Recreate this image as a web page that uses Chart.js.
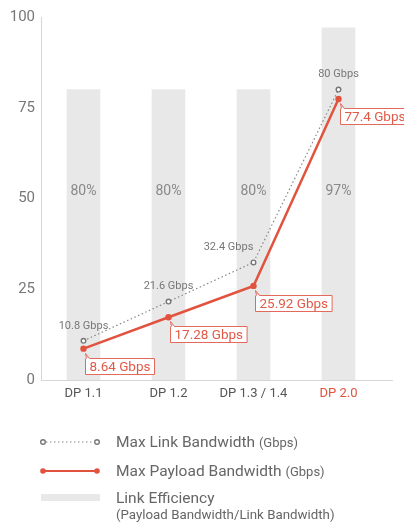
<!DOCTYPE html>
<html><head><meta charset="utf-8">
<script src="https://cdn.jsdelivr.net/npm/chart.js@4/dist/chart.umd.min.js"></script>
<style>
html,body{margin:0;padding:0;background:#fff;font-family:Roboto,sans-serif;}
#wrap{position:relative;width:404px;height:522px;}
#c{position:absolute;left:0;top:0;}
.lt{position:absolute;left:116px;white-space:nowrap;font-size:15.5px;line-height:18px;color:#666;}
.lt small{font-size:13px;}
</style></head>
<body>
<div id="wrap">
<canvas id="c" width="404" height="400"></canvas>
<svg width="404" height="522" style="position:absolute;left:0;top:0" >
  <line x1="46" y1="442" x2="94" y2="442" stroke="#888" stroke-width="1.2" stroke-dasharray="1.5,2.5"/>
  <circle cx="43" cy="442" r="2.3" fill="#fff" stroke="#777" stroke-width="1.4"/>
  <circle cx="97" cy="442" r="2.3" fill="#fff" stroke="#777" stroke-width="1.4"/>
  <line x1="43" y1="471" x2="97" y2="471" stroke="#e2533f" stroke-width="2"/>
  <circle cx="43" cy="471" r="2.8" fill="#e2533f"/>
  <circle cx="97" cy="471" r="2.8" fill="#e2533f"/>
  <rect x="41" y="494" width="59" height="7" fill="#e8e8e8"/>
</svg>
<div class="lt" style="top:433px">Max Link Bandwidth <small>(Gbps)</small></div>
<div class="lt" style="top:462px">Max Payload Bandwidth <small>(Gbps)</small></div>
<div class="lt" style="top:489px">Link Efficiency</div>
<div class="lt" style="top:506px;font-size:13.3px">(Payload Bandwidth/Link Bandwidth)</div>
</div>
<script>
const categories = ['DP 1.1', 'DP 1.2', 'DP 1.3 / 1.4', 'DP 2.0'];
const linkEfficiency = [80, 80, 80, 97];
const maxLinkBandwidth = [10.8, 21.6, 32.4, 80];
const maxPayloadBandwidth = [8.64, 17.28, 25.92, 77.4];
const yTicks = [0, 25, 50, 75, 100];

const RED = '#e2533f';
const linkLabelDx = [0, 0, -25, 0];

const labelPlugin = {
  id: 'labels',
  afterDatasetsDraw(chart) {
    const ctx = chart.ctx;
    const ys = chart.scales.y, ca = chart.chartArea;
    ctx.save();
    ctx.strokeStyle = '#d6d6d6'; ctx.lineWidth = 1;
    ctx.beginPath(); ctx.moveTo(ca.left, ca.bottom + 0.5); ctx.lineTo(393, ca.bottom + 0.5); ctx.stroke();
    const bars = chart.getDatasetMeta(0).data;
    ctx.font = '14px Roboto'; ctx.fillStyle = '#888'; ctx.textAlign = 'center'; ctx.textBaseline = 'middle';
    bars.forEach((b, i) => ctx.fillText(linkEfficiency[i] + '%', b.x, ys.getPixelForValue(52)));
    const lp = chart.getDatasetMeta(1).data;
    ctx.font = '11px Roboto'; ctx.fillStyle = '#777';
    lp.forEach((p, i) => ctx.fillText(maxLinkBandwidth[i] + ' Gbps', p.x + linkLabelDx[i], p.y - 15));
    const pp = chart.getDatasetMeta(2).data;
    ctx.font = '13.5px Roboto'; ctx.textAlign = 'left';
    pp.forEach((p, i) => {
      const t = maxPayloadBandwidth[i] + ' Gbps';
      const w = ctx.measureText(t).width + 8;
      const x = Math.round(p.x + 1) + 0.5, y = Math.round(p.y + 9) + 0.5, h = 16;
      ctx.fillStyle = '#fff';
      ctx.fillRect(x, y, w, h);
      ctx.strokeStyle = '#e36a5a'; ctx.lineWidth = 1;
      ctx.beginPath();
      ctx.moveTo(x + 4, y); ctx.lineTo(x, y - 5); ctx.lineTo(x + 1, y);
      ctx.moveTo(x, y); ctx.lineTo(x, y + h); ctx.lineTo(x + w, y + h); ctx.lineTo(x + w, y); ctx.lineTo(x + 4, y);
      ctx.stroke();
      ctx.fillStyle = '#e05a48';
      ctx.fillText(t, x + 4, y + h / 2 + 1);
    });
    ctx.restore();
  }
};

new Chart(document.getElementById('c'), {
  data: {
    labels: categories,
    datasets: [
      { type: 'bar', label: 'Link Efficiency', data: linkEfficiency, backgroundColor: '#e8e8e8', barThickness: 33, order: 3 },
      { type: 'line', label: 'Max Link Bandwidth (Gbps)', data: maxLinkBandwidth, borderColor: '#888', borderWidth: 1.2, borderDash: [1.5, 2.5],
        pointRadius: 2.3, pointBackgroundColor: '#fff', pointBorderColor: '#777', pointBorderWidth: 1.4, order: 2 },
      { type: 'line', label: 'Max Payload Bandwidth (Gbps)', data: maxPayloadBandwidth, borderColor: RED, borderWidth: 2.5,
        pointRadius: 3.2, pointBackgroundColor: RED, pointBorderColor: RED, pointBorderWidth: 0, order: 1 }
    ]
  },
  options: {
    responsive: false, animation: false, devicePixelRatio: 1,
    layout: { padding: { top: 17, right: 23, left: 0, bottom: 0 } },
    plugins: { legend: { display: false }, tooltip: { enabled: false } },
    scales: {
      x: {
        grid: { display: false, drawTicks: false },
        border: { display: false },
        ticks: { padding: 6, font: { family: 'Roboto', size: 13 },
          color: (c) => c.index === 3 ? RED : '#555' },
        afterFit: (s) => { s.height = 20; }
      },
      y: {
        min: 0, max: 100,
        afterBuildTicks: (s) => { s.ticks = yTicks.map(v => ({ value: v })); },
        grid: { display: false, drawTicks: false },
        border: { display: true, color: '#d6d6d6' },
        ticks: { padding: 6, font: { family: 'Roboto', size: 15 }, color: '#777' },
        afterFit: (s) => { s.width = 41; }
      }
    }
  },
  plugins: [labelPlugin]
});
</script>
</body></html>
